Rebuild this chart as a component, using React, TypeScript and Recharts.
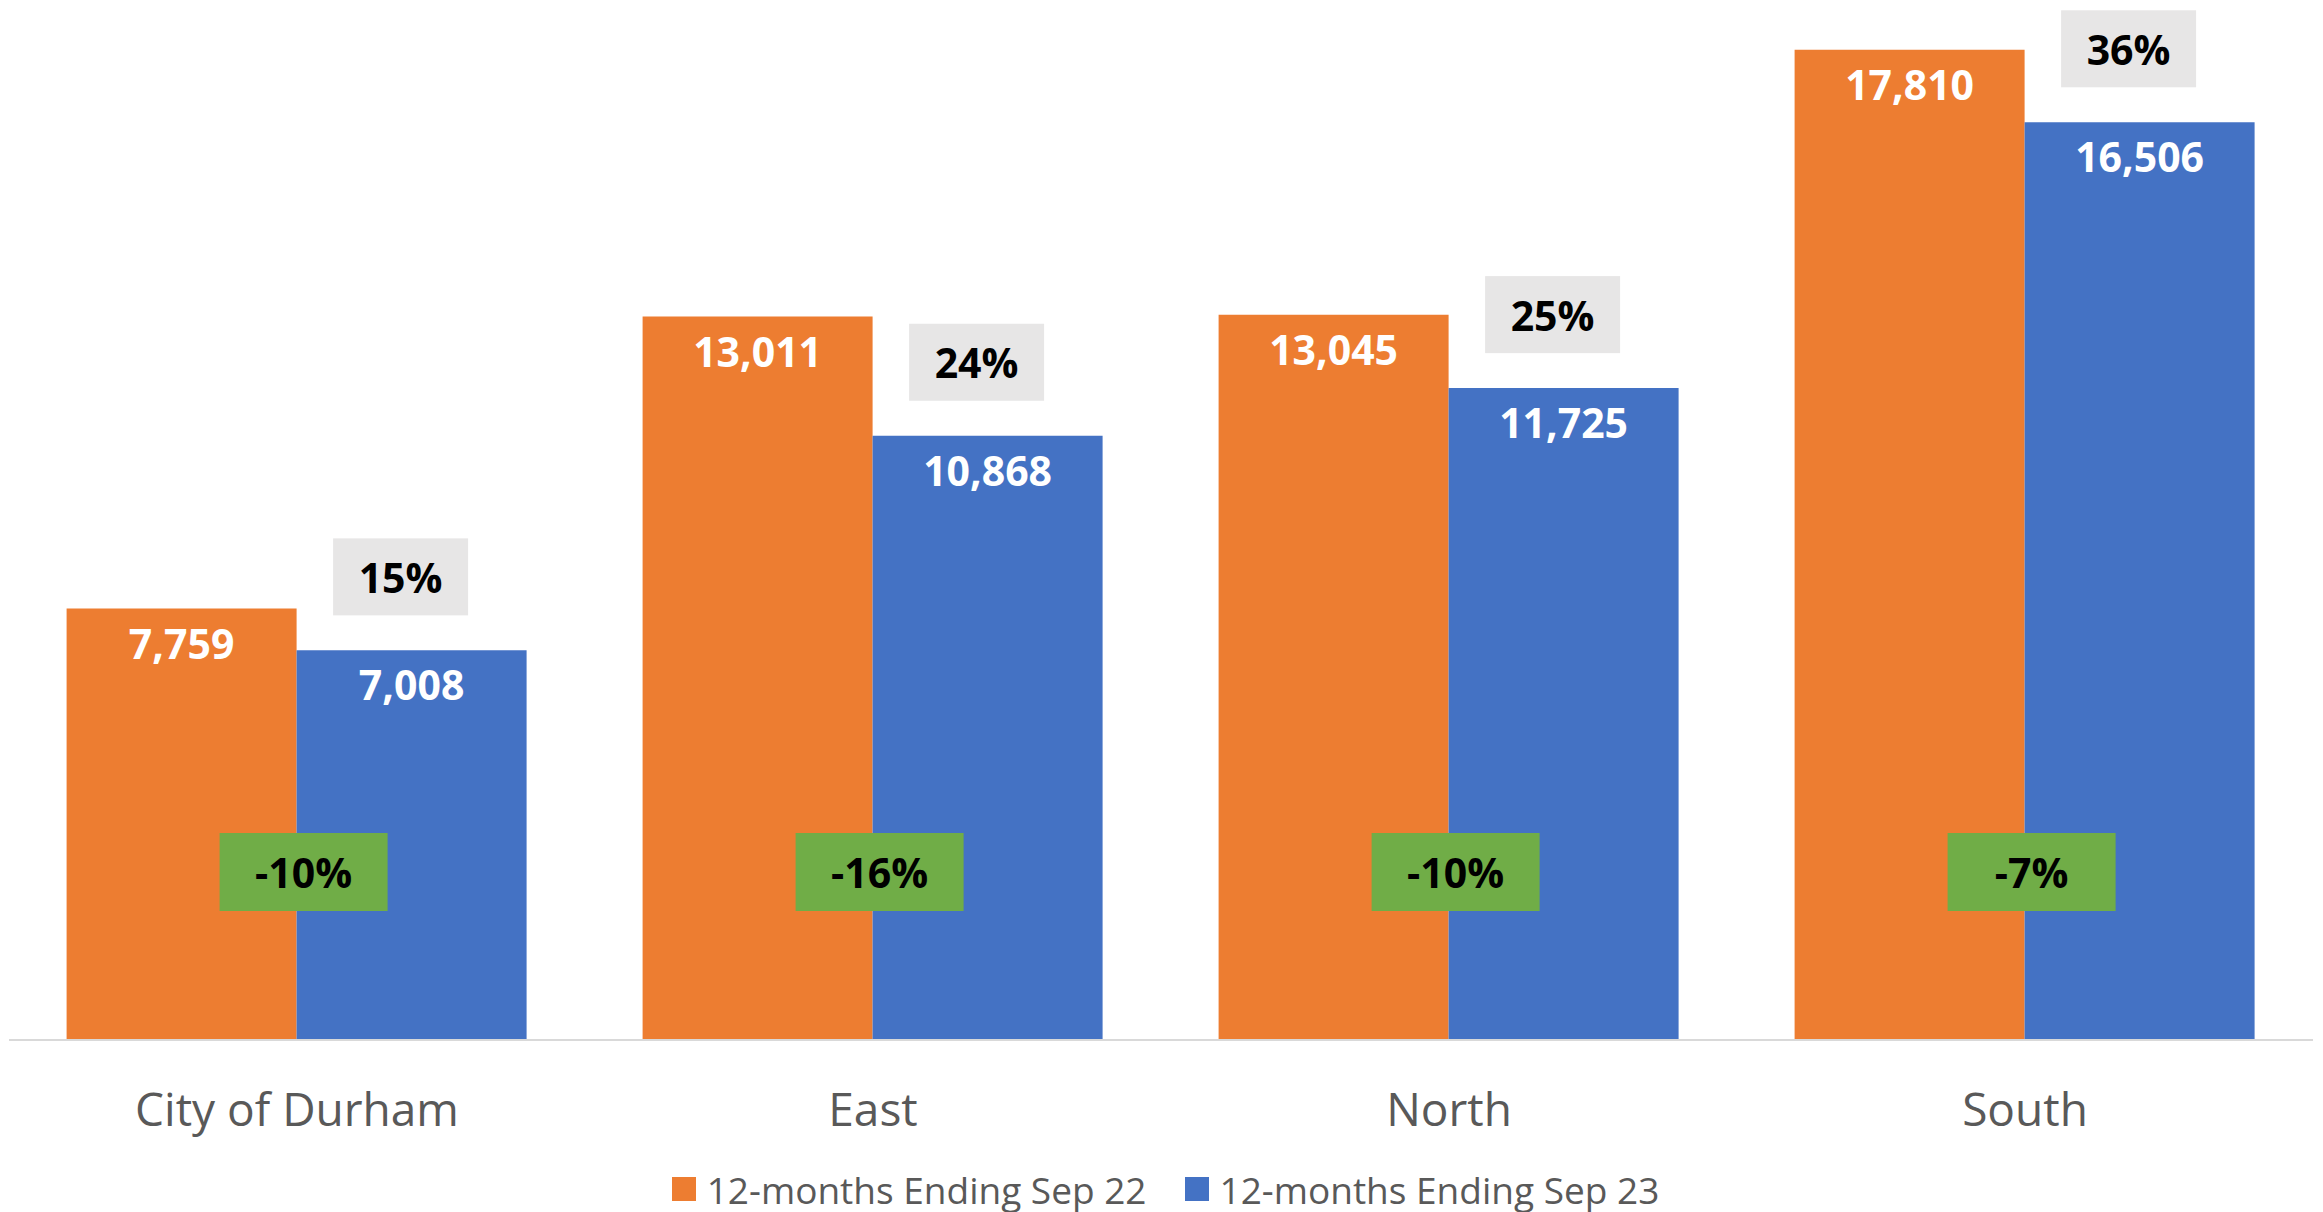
import React from 'react';
import { BarChart, Bar, XAxis, YAxis, Legend, LabelList } from 'recharts';

const categories = ['City of Durham', 'East', 'North', 'South'];
const sep22Values = [7759, 13011, 13045, 17810];
const sep23Values = [7008, 10868, 11725, 16506];
const shareLabels = ['15%', '24%', '25%', '36%'];
const changeLabels = ['-10%', '-16%', '-10%', '-7%'];
const seriesNames = ['12-months Ending Sep 22', '12-months Ending Sep 23'];

const ORANGE = '#ED7D31';
const BLUE = '#4472C4';
const GREEN = '#70AD47';
const GRAY = '#E7E6E6';
const TEXT = '#595959';
const FONT = '"Open Sans", "Noto Sans", sans-serif';

const data = categories.map((name, i) => ({
  name,
  sep22: sep22Values[i],
  sep23: sep23Values[i],
  share: shareLabels[i],
  change: changeLabels[i],
}));

const ValueLabel = (props: any) => {
  const x = Number(props.x);
  const y = Number(props.y);
  const w = Number(props.width);
  return (
    <text
      x={x + w / 2}
      y={y + 34}
      textAnchor="middle"
      dominantBaseline="central"
      fill="#FFFFFF"
      fontWeight={700}
      fontSize={41}
      fontFamily={FONT}
    >
      {Number(props.value).toLocaleString('en-US')}
    </text>
  );
};

const ShareLabel = (props: any) => {
  const x = Number(props.x);
  const y = Number(props.y);
  const w = Number(props.width);
  const cx = x + w / 2 - 11;
  const bottom = y - 35;
  const bw = 135;
  const bh = 77;
  return (
    <g>
      <rect x={cx - bw / 2} y={bottom - bh} width={bw} height={bh} fill={GRAY} />
      <text
        x={cx}
        y={bottom - bh / 2}
        textAnchor="middle"
        dominantBaseline="central"
        fill="#000000"
        fontWeight={700}
        fontSize={41}
        fontFamily={FONT}
      >
        {props.value}
      </text>
    </g>
  );
};

const ChangeLabel = (props: any) => {
  const x = Number(props.x);
  const y = Number(props.y);
  const h = Number(props.height);
  const cx = x + 7;
  const cy = y + h - 168;
  const bw = 168;
  const bh = 78;
  return (
    <g>
      <rect x={cx - bw / 2} y={cy - bh / 2} width={bw} height={bh} fill={GREEN} />
      <text
        x={cx}
        y={cy}
        textAnchor="middle"
        dominantBaseline="central"
        fill="#000000"
        fontWeight={700}
        fontSize={41}
        fontFamily={FONT}
      >
        {props.value}
      </text>
    </g>
  );
};

const CategoryTick = (props: any) => (
  <text
    x={props.x}
    y={props.y}
    dy={68}
    textAnchor="middle"
    dominantBaseline="central"
    fill={TEXT}
    fontSize={46}
    fontFamily={FONT}
  >
    {props.payload.value}
  </text>
);

const LegendContent = () => (
  <div
    style={{
      display: 'flex',
      justifyContent: 'center',
      alignItems: 'center',
      height: 46,
      fontFamily: FONT,
      fontSize: 37,
      color: TEXT,
    }}
  >
    {[ORANGE, BLUE].map((c, i) => (
      <div key={i} style={{ display: 'flex', alignItems: 'center', marginRight: i === 0 ? 38 : 0 }}>
        <div style={{ width: 24, height: 24, background: c, marginRight: 11 }} />
        <span style={{ whiteSpace: 'nowrap' }}>{seriesNames[i]}</span>
      </div>
    ))}
  </div>
);

export default function App() {
  return (
    <div style={{ width: 2315, height: 1204, fontFamily: FONT, background: '#fff' }}>
      <BarChart
        width={2315}
        height={1204}
        data={data}
        margin={{ top: 9, right: 10, left: 1, bottom: 0 }}
        barCategoryGap="10%"
        barGap={0}
      >
        <XAxis
          dataKey="name"
          interval={0}
          tickLine={false}
          tickSize={0}
          tickMargin={0}
          height={126}
          axisLine={{ stroke: '#D9D9D9', strokeWidth: 2 }}
          tick={<CategoryTick />}
        />
        <YAxis hide domain={[0, 18400]} />
        <Legend
          verticalAlign="bottom"
          height={46}
          wrapperStyle={{ left: 0, width: 2315 }}
          content={<LegendContent />}
        />
        <Bar dataKey="sep22" name={seriesNames[0]} fill={ORANGE} isAnimationActive={false}>
          <LabelList dataKey="sep22" content={<ValueLabel />} />
        </Bar>
        <Bar dataKey="sep23" name={seriesNames[1]} fill={BLUE} isAnimationActive={false}>
          <LabelList dataKey="sep23" content={<ValueLabel />} />
          <LabelList dataKey="share" content={<ShareLabel />} />
          <LabelList dataKey="change" content={<ChangeLabel />} />
        </Bar>
      </BarChart>
    </div>
  );
}
